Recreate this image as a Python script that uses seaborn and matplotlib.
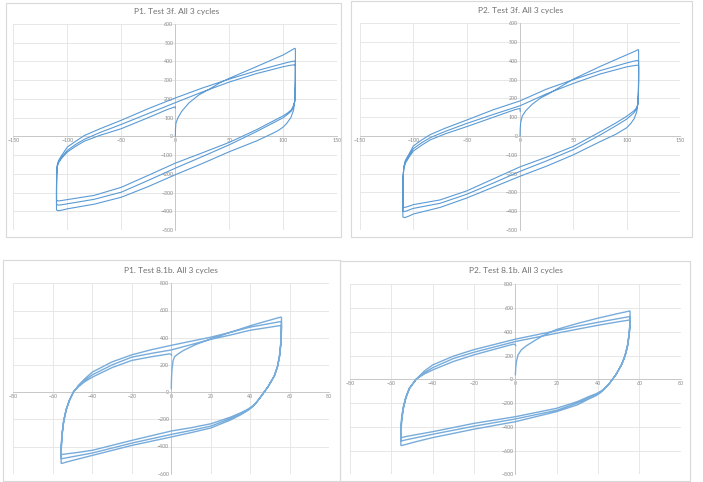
import matplotlib
matplotlib.use("Agg")
import matplotlib.pyplot as plt
import seaborn as sns
import pandas as pd
import numpy as np
from matplotlib.patches import Rectangle

# ---- P1. Test 3f (displacement, force) ----
tl_init = [(0,0),(0.2,40),(0.6,72),(2.5,100),(6,134),(12.5,178),(22,222),(31,250),(41,285),(50,310),(75,372),(100,435),(108,462),(110.5,470),(111,469)]
tl_down1 = [(111.2,465),(111.2,350),(111,250),(110.6,190),(109.5,140),(107,100),(103,68),(100,50),(95,30),(88,10),(75,-25),(50,-82),(25,-145),(0,-205),(-25,-268),(-50,-325),(-75,-362),(-100,-387),(-105,-394),(-108,-397),(-109.5,-395)]
tl_up1 = [(-110,-392),(-110,-300),(-109.8,-200),(-109.2,-150),(-108,-128),(-105,-100),(-100,-57),(-92,-25),(-84,5),(-70,40),(-50,86),(-25,148),(0,205),(25,258),(50,306),(75,350),(100,389),(107,399),(110,402),(111,400)]
tl_down2 = [(111.2,395),(111.2,300),(111,230),(110.5,185),(109.5,160),(107.5,135),(104,118),(100,100),(90,70),(75,25),(50,-45),(25,-108),(0,-170),(-25,-235),(-50,-298),(-75,-336),(-100,-360),(-105,-365),(-108,-367),(-109.5,-365)]
tl_up2 = [(-110,-362),(-110,-280),(-109.8,-200),(-109.2,-155),(-108,-135),(-105,-110),(-100,-75),(-92,-42),(-84,-15),(-70,20),(-50,64),(-25,122),(0,180),(25,237),(50,290),(75,335),(100,372),(107,380),(110,382),(111,380)]
tl_down3 = [(111.2,376),(111.2,290),(111,225),(110.5,185),(109.5,165),(107.5,142),(104,125),(100,110),(90,80),(75,35),(50,-32),(25,-88),(0,-143),(-25,-208),(-50,-272),(-75,-315),(-100,-338),(-105,-343),(-108,-345),(-109.5,-343)]
tl_up3 = [(-110,-340),(-110,-260),(-109.8,-200),(-109.2,-160),(-108,-140),(-105,-115),(-100,-84),(-92,-52),(-84,-25),(-70,5),(-50,41),(-25,100),(-8,142),(0,158),(0,150)]

# ---- P2. Test 3f ----
tr_init = [(0,0),(0.2,40),(0.6,71),(2.2,107),(5.3,134),(11.6,170),(19.4,203),(27,225),(37,259),(50,303),(75,370),(100,432),(108,452),(110.6,460),(111,459)]
tr_down1 = [(111.2,455),(111.2,340),(111,240),(110.5,180),(109.5,130),(107,92),(104,68),(100,44),(90,10),(75,-30),(50,-100),(25,-160),(0,-214),(-25,-272),(-50,-330),(-75,-380),(-100,-415),(-105,-428),(-108,-434),(-109.5,-432)]
tr_up1 = [(-109.8,-430),(-109.8,-330),(-109.6,-230),(-109,-165),(-107.5,-130),(-104,-95),(-100,-53),(-92,-20),(-84,8),(-70,42),(-50,85),(-25,140),(0,187),(25,250),(50,300),(75,348),(100,389),(107,399),(110,402),(111,400)]
tr_down2 = [(111.2,396),(111.2,300),(111,220),(110.5,170),(109.5,145),(107,125),(103,105),(100,90),(90,55),(75,5),(50,-72),(25,-132),(0,-188),(-25,-250),(-50,-310),(-75,-358),(-100,-385),(-105,-396),(-108,-402),(-109.5,-400)]
tr_up2 = [(-109.8,-398),(-109.8,-300),(-109.6,-220),(-109,-170),(-107.5,-138),(-104,-105),(-100,-67),(-92,-35),(-84,-8),(-70,25),(-50,67),(-25,115),(0,161),(25,225),(50,280),(75,330),(100,368),(107,375),(110,377),(111,375)]
tr_down3 = [(111.2,372),(111.2,290),(111,215),(110.5,170),(109.5,152),(107,135),(103,118),(100,105),(90,70),(75,22),(50,-55),(25,-112),(0,-164),(-25,-228),(-50,-292),(-75,-340),(-100,-365),(-105,-375),(-108,-380),(-109.5,-378)]
tr_up3 = [(-109.8,-376),(-109.8,-290),(-109.6,-220),(-109,-175),(-107.5,-145),(-104,-112),(-100,-80),(-92,-48),(-84,-20),(-70,12),(-50,50),(-25,100),(-5,140),(0,147),(0.2,130)]

# ---- P1. Test 8.1b ----
bl_init = [(0,24),(0.1,100),(0.3,160),(0.9,232),(1.7,261),(3.4,280),(6,305),(9.4,329),(12.8,352),(19.7,390),(25,415),(30,440),(40,488),(50,530),(54,546),(55.5,551),(55.8,548)]
bl_down1 = [(55.8,540),(55.7,450),(55.4,360),(54.8,270),(53.8,190),(52.2,120),(50.5,78),(49,40),(47.5,10),(46,-20),(44.5,-50),(43,-78),(41.5,-102),(40,-122),(38,-142),(35,-168),(30,-205),(20,-264),(10,-298),(0,-330),(-20,-392),(-40,-465),(-48,-495),(-53,-514),(-55.3,-524),(-55.8,-522)]
bl_up1 = [(-55.8,-518),(-55.7,-420),(-55.3,-320),(-54.5,-220),(-53.2,-130),(-51.5,-60),(-49.5,0),(-47,50),(-44,95),(-40,147),(-30,222),(-20,274),(-10,312),(0,344),(20,404),(30,440),(40,478),(50,505),(54,515),(55.5,519),(55.8,516)]
bl_down2 = [(55.8,510),(55.7,430),(55.4,350),(54.8,265),(53.8,190),(52.2,120),(50.5,78),(49,40),(47.5,10),(46,-20),(44.5,-50),(43,-78),(41.5,-100),(40,-118),(38,-137),(35,-160),(30,-194),(20,-250),(10,-282),(0,-311),(-20,-375),(-40,-448),(-48,-470),(-53,-483),(-55.3,-489),(-55.8,-487)]
bl_up2 = [(-55.8,-483),(-55.7,-400),(-55.3,-310),(-54.5,-215),(-53.2,-128),(-51.5,-58),(-49.5,2),(-47,45),(-44,85),(-40,127),(-30,200),(-20,257),(-10,285),(0,310),(20,388),(30,420),(40,455),(50,478),(54,487),(55.5,490),(55.8,487)]
bl_down3 = [(55.8,482),(55.7,410),(55.4,340),(54.8,260),(53.8,188),(52.2,120),(50.5,78),(49,40),(47.5,10),(46,-20),(44.5,-50),(43,-77),(41.5,-98),(40,-114),(38,-132),(35,-153),(30,-184),(20,-233),(10,-262),(0,-286),(-20,-355),(-40,-428),(-48,-445),(-53,-454),(-55.3,-459),(-55.8,-457)]
bl_up3 = [(-55.8,-453),(-55.7,-380),(-55.3,-300),(-54.5,-210),(-53.2,-125),(-51.5,-55),(-49.5,4),(-47,40),(-44,75),(-40,110),(-30,180),(-20,233),(-10,260),(-1,281),(0,278),(0.2,268)]

# ---- P2. Test 8.1b ----
br_init = [(0,37),(0.2,100),(0.5,149),(1.3,206),(2.9,248),(5.3,282),(8.6,318),(13.4,368),(20,420),(30,470),(40,515),(50,555),(54,570),(55.2,576),(55.5,573)]
br_down1 = [(55.5,565),(55.4,470),(55,380),(54.2,280),(53,200),(51.5,130),(50,80),(48.5,35),(47,0),(45.5,-35),(44,-65),(42.5,-92),(41,-115),(39,-138),(36,-162),(30,-215),(20,-272),(0,-357),(-20,-420),(-40,-491),(-48,-525),(-53,-548),(-55,-558),(-55.4,-555)]
br_up1 = [(-55.4,-552),(-55.3,-450),(-55,-350),(-54.2,-250),(-53,-160),(-51.3,-80),(-48,0),(-44,70),(-40,121),(-30,195),(-20,250),(0,338),(20,410),(30,447),(40,480),(50,512),(54.5,526),(55.2,528),(55.5,525)]
br_down2 = [(55.5,518),(55.4,450),(55,370),(54.2,275),(53,195),(51.5,128),(50,80),(48.5,35),(47,0),(45.5,-35),(44,-64),(42.5,-90),(41,-110),(39,-130),(36,-152),(30,-200),(20,-261),(0,-334),(-20,-395),(-40,-463),(-48,-492),(-53,-510),(-55,-519),(-55.4,-516)]
br_up2 = [(-55.4,-512),(-55.3,-420),(-55,-330),(-54.2,-240),(-53,-155),(-51.3,-78),(-48,0),(-44,55),(-40,98),(-30,175),(-20,228),(0,318),(20,388),(30,422),(40,455),(50,485),(54.5,497),(55.2,500),(55.5,497)]
br_down3 = [(55.5,490),(55.4,430),(55,360),(54.2,270),(53,190),(51.5,125),(50,80),(48.5,35),(47,0),(45.5,-34),(44,-62),(42.5,-86),(41,-104),(39,-122),(36,-142),(30,-188),(20,-244),(0,-315),(-20,-371),(-40,-441),(-48,-466),(-53,-482),(-55,-491),(-55.4,-489)]
br_up3 = [(-55.4,-485),(-55.3,-400),(-55,-320),(-54.2,-230),(-53,-150),(-51.3,-75),(-48,2),(-44,45),(-40,79),(-30,150),(-20,206),(-1,296),(0,292),(0.2,282)]

titles = ["P1. Test 3f. All 3 cycles", "P2. Test 3f. All 3 cycles",
          "P1. Test 8.1b. All 3 cycles", "P2. Test 8.1b. All 3 cycles"]

W, H = 703, 482

# panel layout in pixels: border box, plot area, title centre
panels = [
    dict(paths=[tl_init, tl_down1, tl_up1, tl_down2, tl_up2, tl_down3, tl_up3],
         box=(5.7, 3.3, 340.7, 237), area=(13.3, 24, 337.3, 230), tpos=(176.7, 11.5),
         xlim=(-150, 150), ylim=(-500, 600), xstep=50, ystep=100, color="#5b9bd5", lw=0.8),
    dict(paths=[tr_init, tr_down1, tr_up1, tr_down2, tr_up2, tr_down3, tr_up3],
         box=(351, 1, 692.3, 237.3), area=(360, 23.3, 680, 230), tpos=(520.7, 11),
         xlim=(-150, 150), ylim=(-500, 600), xstep=50, ystep=100, color="#5b9bd5", lw=0.8),
    dict(paths=[bl_init, bl_down1, bl_up1, bl_down2, bl_up2, bl_down3, bl_up3],
         box=(2.7, 260, 340, 481), area=(13.3, 283.3, 329.3, 473.7), tpos=(171, 270),
         xlim=(-80, 80), ylim=(-600, 800), xstep=20, ystep=200, color="#78acdb", lw=1.0),
    dict(paths=[br_init, br_down1, br_up1, br_down2, br_up2, br_down3, br_up3],
         box=(339.5, 261, 690, 481), area=(350, 284.3, 680.7, 474.3), tpos=(515.6, 271),
         xlim=(-80, 80), ylim=(-800, 800), xstep=20, ystep=200, color="#78acdb", lw=1.0),
]

sns.set_theme(style="white")
plt.rcParams['font.family'] = ['Lato', 'DejaVu Sans']

fig = plt.figure(figsize=(W / 100, H / 100), dpi=100)
fig.patch.set_facecolor("white")

for p, title in zip(panels, titles):
    x0, y0, x1, y1 = p["box"]
    fig.add_artist(Rectangle((x0 / W, 1 - y1 / H), (x1 - x0) / W, (y1 - y0) / H,
                             transform=fig.transFigure, fill=False,
                             edgecolor="#d9d9d9", lw=0.8))
    ax0, ay0, ax1, ay1 = p["area"]
    ax = fig.add_axes([ax0 / W, 1 - ay1 / H, (ax1 - ax0) / W, (ay1 - ay0) / H])
    ax.set_facecolor("none")

    pts = [pt for seg in p["paths"] for pt in seg]
    df = pd.DataFrame(pts, columns=["x", "y"])
    sns.lineplot(data=df, x="x", y="y", sort=False, estimator=None,
                 color=p["color"], lw=p["lw"], ax=ax, zorder=3)

    ax.set_xlim(*p["xlim"])
    ax.set_ylim(*p["ylim"])
    ax.set_xticks(np.arange(p["xlim"][0], p["xlim"][1] + 1, p["xstep"]))
    ax.set_yticks(np.arange(p["ylim"][0], p["ylim"][1] + 1, p["ystep"]))
    ax.set_xlabel("")
    ax.set_ylabel("")
    ax.grid(True, color="#e3e3e3", lw=0.6, zorder=0)
    for s in ["top", "right"]:
        ax.spines[s].set_visible(False)
    for s in ["left", "bottom"]:
        ax.spines[s].set_position(("data", 0))
        ax.spines[s].set_color("#c8c8c8")
        ax.spines[s].set_linewidth(0.7)
    ax.tick_params(length=0, labelsize=3.8, colors="#8a8a8a", pad=1.5)

    fig.text(p["tpos"][0] / W, 1 - p["tpos"][1] / H, title, ha="center", va="center",
             fontsize=6, color="#707070")

fig.savefig("out.png", dpi=100, facecolor="white")
